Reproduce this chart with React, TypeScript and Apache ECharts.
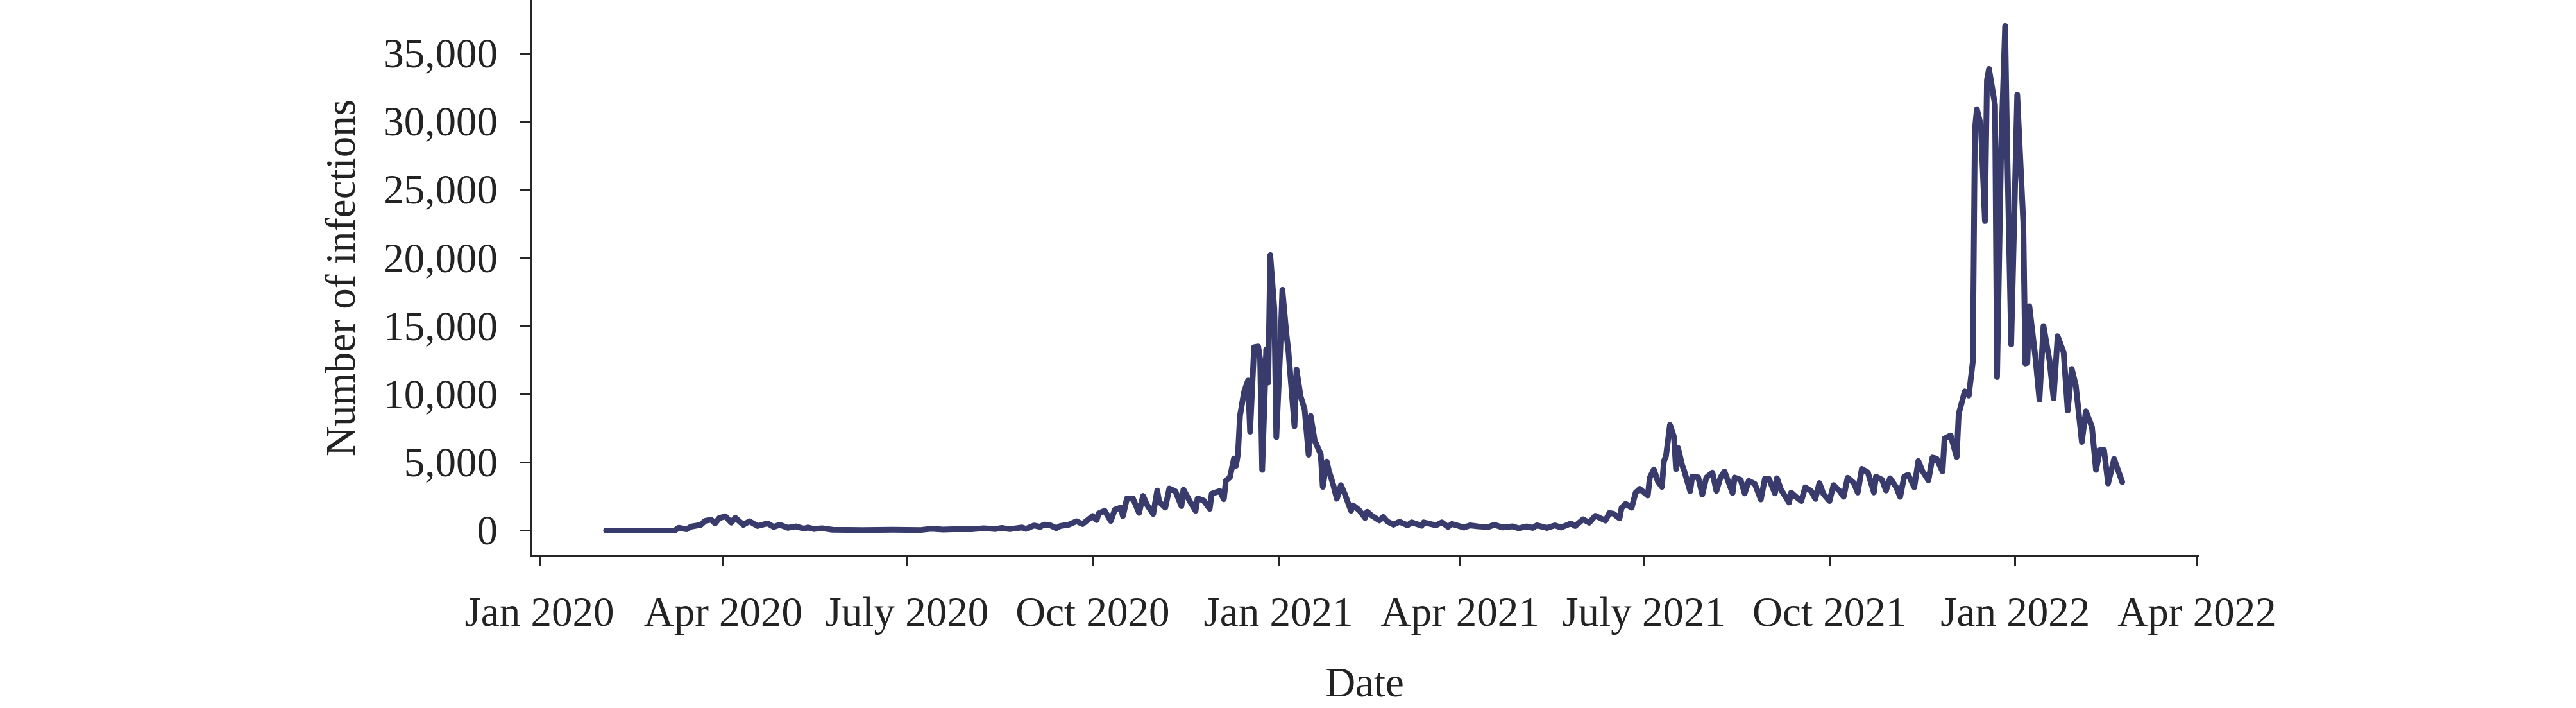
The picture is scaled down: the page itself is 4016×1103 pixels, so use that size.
import React, { useEffect, useRef } from "react";
import * as echarts from "echarts";

// Daily infection counts (peaks / troughs of the series)
const dates: string[] = [
  "2020-02-03", "2020-03-08", "2020-03-10", "2020-03-14", "2020-03-16", "2020-03-21", "2020-03-23", "2020-03-26",
  "2020-03-28", "2020-03-30", "2020-04-02", "2020-04-05", "2020-04-07", "2020-04-11", "2020-04-14", "2020-04-18",
  "2020-04-23", "2020-04-26", "2020-04-29", "2020-05-03", "2020-05-07", "2020-05-11", "2020-05-13", "2020-05-16",
  "2020-05-20", "2020-05-25", "2020-06-09", "2020-06-24", "2020-07-08", "2020-07-13", "2020-07-19", "2020-07-26",
  "2020-08-02", "2020-08-08", "2020-08-14", "2020-08-17", "2020-08-21", "2020-08-27", "2020-08-29", "2020-09-02",
  "2020-09-05", "2020-09-07", "2020-09-10", "2020-09-13", "2020-09-15", "2020-09-19", "2020-09-23", "2020-09-26",
  "2020-10-01", "2020-10-03", "2020-10-04", "2020-10-07", "2020-10-10", "2020-10-12", "2020-10-15", "2020-10-16",
  "2020-10-18", "2020-10-21", "2020-10-24", "2020-10-26", "2020-10-28", "2020-10-31", "2020-11-02", "2020-11-03",
  "2020-11-06", "2020-11-08", "2020-11-11", "2020-11-14", "2020-11-15", "2020-11-18", "2020-11-21", "2020-11-22",
  "2020-11-25", "2020-11-28", "2020-11-29", "2020-12-03", "2020-12-05", "2020-12-06", "2020-12-08", "2020-12-10",
  "2020-12-11", "2020-12-12", "2020-12-13", "2020-12-15", "2020-12-17", "2020-12-18", "2020-12-20", "2020-12-22",
  "2020-12-23", "2020-12-24", "2020-12-26", "2020-12-27", "2020-12-28", "2020-12-30", "2020-12-31", "2021-01-02",
  "2021-01-03", "2021-01-05", "2021-01-06", "2021-01-09", "2021-01-10", "2021-01-12", "2021-01-14", "2021-01-16",
  "2021-01-17", "2021-01-19", "2021-01-22", "2021-01-23", "2021-01-25", "2021-01-26", "2021-01-28", "2021-01-30",
  "2021-02-01", "2021-02-03", "2021-02-06", "2021-02-07", "2021-02-10", "2021-02-13", "2021-02-14", "2021-02-16",
  "2021-02-20", "2021-02-22", "2021-02-24", "2021-02-27", "2021-03-02", "2021-03-06", "2021-03-08", "2021-03-13",
  "2021-03-14", "2021-03-20", "2021-03-23", "2021-03-26", "2021-03-28", "2021-04-03", "2021-04-06", "2021-04-10",
  "2021-04-15", "2021-04-18", "2021-04-22", "2021-04-27", "2021-04-30", "2021-05-04", "2021-05-07", "2021-05-09",
  "2021-05-14", "2021-05-18", "2021-05-21", "2021-05-26", "2021-05-28", "2021-06-01", "2021-06-04", "2021-06-07",
  "2021-06-12", "2021-06-14", "2021-06-16", "2021-06-19", "2021-06-20", "2021-06-22", "2021-06-25", "2021-06-27",
  "2021-06-29", "2021-07-03", "2021-07-04", "2021-07-06", "2021-07-08", "2021-07-10", "2021-07-11", "2021-07-12",
  "2021-07-14", "2021-07-16", "2021-07-17", "2021-07-18", "2021-07-20", "2021-07-21", "2021-07-24", "2021-07-25",
  "2021-07-28", "2021-07-30", "2021-08-01", "2021-08-04", "2021-08-06", "2021-08-08", "2021-08-10", "2021-08-14",
  "2021-08-15", "2021-08-18", "2021-08-20", "2021-08-22", "2021-08-25", "2021-08-28", "2021-08-30", "2021-09-01",
  "2021-09-04", "2021-09-05", "2021-09-07", "2021-09-11", "2021-09-12", "2021-09-14", "2021-09-17", "2021-09-19",
  "2021-09-22", "2021-09-24", "2021-09-26", "2021-09-28", "2021-10-01", "2021-10-03", "2021-10-06", "2021-10-08",
  "2021-10-10", "2021-10-13", "2021-10-15", "2021-10-17", "2021-10-20", "2021-10-23", "2021-10-24", "2021-10-27",
  "2021-10-29", "2021-10-31", "2021-11-03", "2021-11-05", "2021-11-07", "2021-11-09", "2021-11-12", "2021-11-14",
  "2021-11-16", "2021-11-19", "2021-11-21", "2021-11-23", "2021-11-26", "2021-11-27", "2021-11-30", "2021-12-03",
  "2021-12-04", "2021-12-07", "2021-12-09", "2021-12-11", "2021-12-12", "2021-12-13", "2021-12-15", "2021-12-17",
  "2021-12-18", "2021-12-19", "2021-12-22", "2021-12-23", "2021-12-25", "2021-12-27", "2021-12-28", "2021-12-30",
  "2022-01-02", "2022-01-05", "2022-01-06", "2022-01-07", "2022-01-08", "2022-01-11", "2022-01-13", "2022-01-15",
  "2022-01-18", "2022-01-20", "2022-01-22", "2022-01-25", "2022-01-27", "2022-01-29", "2022-01-31", "2022-02-03",
  "2022-02-05", "2022-02-08", "2022-02-10", "2022-02-12", "2022-02-14", "2022-02-16", "2022-02-19", "2022-02-23",
];

const infections: number[] = [
  0, 0, 200, 90, 280, 420, 700, 800,
  520, 900, 1050, 580, 930, 420, 680, 330,
  520, 260, 420, 200, 300, 140, 220, 110,
  170, 60, 40, 60, 40, 130, 70, 110,
  90, 170, 110, 190, 100, 220, 120, 370,
  270, 440, 380, 170, 330, 420, 680, 470,
  1060, 760, 1250, 1450, 700, 1530, 1680, 1050,
  2340, 2340, 1290, 2540, 1870, 1210, 2930, 2110,
  1680, 3080, 2880, 1790, 3000, 2190, 1450, 2350,
  2200, 1600, 2700, 2900, 2300, 3640, 3900, 5280,
  4750, 5600, 8400, 10150, 11000, 7250, 13450, 13500,
  12550, 4450, 13300, 10850, 20200, 16300, 6850, 13450,
  17650, 14400, 13150, 7650, 11800, 9850, 8900, 5550,
  8400, 6600, 5600, 3200, 5050, 4400, 3450, 2330,
  3330, 2650, 1450, 1850, 1500, 920, 1380, 1120,
  740, 990, 660, 430, 640, 380, 600, 350,
  600, 380, 600, 270, 480, 220, 380, 300,
  260, 420, 220, 310, 160, 300, 190, 380,
  190, 380, 220, 520, 330, 820, 570, 1080,
  730, 1290, 1230, 890, 1650, 1960, 1670, 2780,
  3050, 2560, 3870, 4480, 3600, 3200, 5100, 5450,
  7750, 6850, 4500, 6050, 4800, 4400, 2880, 3950,
  3900, 2640, 3880, 4250, 2900, 3880, 4330, 2750,
  3880, 3720, 2720, 3640, 3420, 2280, 3790, 3800,
  2720, 3840, 2990, 2060, 2780, 2520, 2160, 3170,
  2880, 2320, 3480, 2680, 2160, 3330, 2900, 2470,
  3870, 3500, 2790, 4520, 4270, 2790, 3950, 3730,
  2930, 3840, 3190, 2470, 3950, 4100, 3170, 5100,
  4370, 3680, 5350, 5280, 4340, 6750, 6980, 5400,
  8550, 10200, 9900, 12400, 29400, 30900, 29700, 22700,
  33050, 33850, 31200, 11250, 27900, 37000, 28200, 13650,
  31950, 22600, 12250, 12300, 16450, 12700, 9600, 15000,
  12450, 9700, 14250, 13050, 8800, 11850, 10650, 6500,
  8750, 7600, 4450, 5900, 5900, 3450, 5250, 3550,
];

const xTickDates: string[] = [
  "2020-01-01", "2020-04-01", "2020-07-01", "2020-10-01", "2021-01-01",
  "2021-04-01", "2021-07-01", "2021-10-01", "2022-01-01", "2022-04-01",
];
const xTickLabels: string[] = [
  "Jan 2020", "Apr 2020", "July 2020", "Oct 2020", "Jan 2021",
  "Apr 2021", "July 2021", "Oct 2021", "Jan 2022", "Apr 2022",
];
const yTickValues: number[] = [0, 5000, 10000, 15000, 20000, 25000, 30000, 35000];
const yTickLabels: string[] = ["0", "5,000", "10,000", "15,000", "20,000", "25,000", "30,000", "35,000"];

const DAY = 86400000;
const toTs = (s: string) => {
  const [y, m, d] = s.split("-").map(Number);
  return Date.UTC(y, m - 1, d);
};

const FONT = "'Liberation Serif', 'Times New Roman', Times, serif";
const TEXT_COLOR = "#232323";
const AXIS_COLOR = "#262626";
const LINE_COLOR = "#383b6b";

export default function App() {
  const ref = useRef<HTMLDivElement>(null);

  useEffect(() => {
    if (!ref.current) return;
    const chart = echarts.init(ref.current, null, { renderer: "svg" });
    const xTickTs = xTickDates.map(toTs);
    const origin = toTs("2020-01-01");
    const seriesData = dates.map((d, i) => [toTs(d), infections[i]]);

    chart.setOption({
      animation: false,
      backgroundColor: "#ffffff",
      grid: {
        left: 828,
        right: 589,
        top: 0,
        bottom: 237,
        containLabel: false,
        outerBoundsMode: "none",
      },
      xAxis: {
        type: "value",
        min: origin - 4.13 * DAY,
        max: origin + 821.64 * DAY,
        name: "Date",
        nameLocation: "middle",
        nameGap: 164,
        nameTextStyle: { fontFamily: FONT, fontSize: 65, color: TEXT_COLOR },
        axisLine: { show: true, onZero: false, lineStyle: { color: AXIS_COLOR, width: 4 } },
        axisTick: {
          show: true,
          length: 15,
          lineStyle: { color: AXIS_COLOR, width: 3 },
          customValues: xTickTs,
        },
        axisLabel: {
          show: true,
          margin: 54,
          fontFamily: FONT,
          fontSize: 65,
          color: TEXT_COLOR,
          customValues: xTickTs,
          showMinLabel: true,
          showMaxLabel: true,
          formatter: (value: number) => {
            const i = xTickTs.findIndex((t) => Math.abs(t - value) < DAY / 2);
            return i >= 0 ? xTickLabels[i] : "";
          },
        },
        splitLine: { show: false },
      },
      yAxis: {
        type: "value",
        min: -1860,
        max: 38912,
        name: "Number of infections",
        nameLocation: "middle",
        nameGap: 265,
        nameRotate: 90,
        nameTextStyle: { fontFamily: FONT, fontSize: 65, color: TEXT_COLOR },
        axisLine: { show: true, onZero: false, lineStyle: { color: AXIS_COLOR, width: 4 } },
        axisTick: {
          show: true,
          length: 17,
          lineStyle: { color: AXIS_COLOR, width: 3 },
          customValues: yTickValues,
        },
        axisLabel: {
          show: true,
          margin: 52,
          fontFamily: FONT,
          fontSize: 65,
          color: TEXT_COLOR,
          customValues: yTickValues,
          formatter: (value: number) => {
            const i = yTickValues.indexOf(value);
            return i >= 0 ? yTickLabels[i] : "";
          },
        },
        splitLine: { show: false },
      },
      series: [
        {
          type: "line",
          data: seriesData,
          showSymbol: false,
          symbol: "none",
          lineStyle: { color: LINE_COLOR, width: 9, join: "round", cap: "round" },
          itemStyle: { color: LINE_COLOR },
        },
      ],
    });

    return () => chart.dispose();
  }, []);

  return (
    <div
      ref={ref}
      style={{ position: "fixed", left: 0, top: 0, width: 4016, height: 1103, background: "#fff" }}
    />
  );
}
